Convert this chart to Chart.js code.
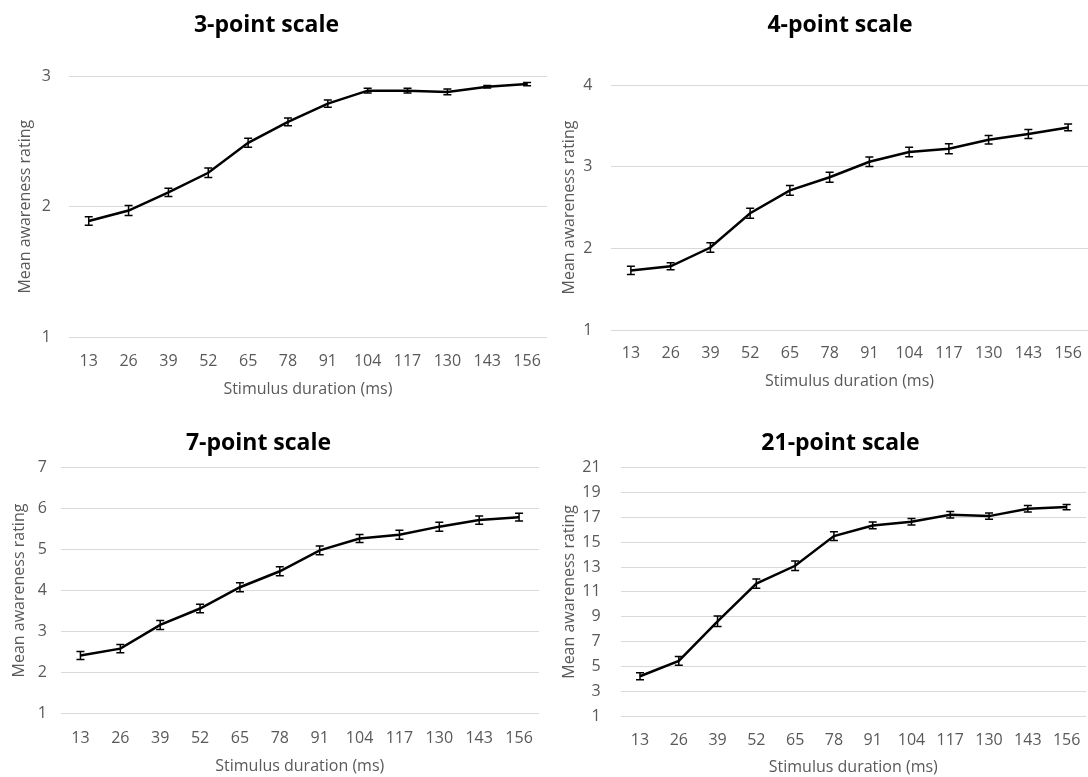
<!DOCTYPE html>
<html>
<head>
<meta charset="utf-8">
<script src="https://cdn.jsdelivr.net/npm/chart.js@4.4.1/dist/chart.umd.min.js"></script>
<style>
  html, body { margin: 0; padding: 0; background: #ffffff; overflow: hidden; width: 1088px; height: 777px; }
  .panel { position: absolute; }
</style>
</head>
<body>
<div class="panel" id="p1"><canvas id="c1"></canvas></div>
<div class="panel" id="p2"><canvas id="c2"></canvas></div>
<div class="panel" id="p3"><canvas id="c3"></canvas></div>
<div class="panel" id="p4"><canvas id="c4"></canvas></div>
<script>
// Stimulus durations (ms) shared by all four panels
const durations = ['13', '26', '39', '52', '65', '78', '91', '104', '117', '130', '143', '156'];

// 3-point scale: mean rating and standard error
const mean3 = [1.89, 1.97, 2.11, 2.26, 2.49, 2.65, 2.79, 2.89, 2.89, 2.88, 2.92, 2.94];
const err3  = [0.032, 0.038, 0.032, 0.037, 0.035, 0.030, 0.028, 0.019, 0.019, 0.022, 0.010, 0.013];
const ticks3 = [1, 2, 3];

// 4-point scale
const mean4 = [1.73, 1.78, 2.01, 2.43, 2.71, 2.87, 3.06, 3.18, 3.22, 3.33, 3.40, 3.48];
const err4  = [0.051, 0.043, 0.059, 0.061, 0.059, 0.061, 0.057, 0.059, 0.061, 0.053, 0.055, 0.041];
const ticks4 = [1, 2, 3, 4];

// 7-point scale
const mean7 = [2.41, 2.58, 3.16, 3.56, 4.08, 4.47, 4.98, 5.27, 5.36, 5.56, 5.72, 5.79];
const err7  = [0.098, 0.100, 0.110, 0.105, 0.110, 0.110, 0.105, 0.100, 0.110, 0.110, 0.100, 0.095];
const ticks7 = [1, 2, 3, 4, 5, 6, 7];

// 21-point scale
const mean21 = [4.2, 5.44, 8.63, 11.67, 13.1, 15.49, 16.35, 16.65, 17.21, 17.1, 17.69, 17.83];
const err21  = [0.28, 0.36, 0.43, 0.37, 0.39, 0.36, 0.27, 0.26, 0.26, 0.26, 0.26, 0.21];
const ticks21 = [1, 3, 5, 7, 9, 11, 13, 15, 17, 19, 21];

const FONT = "'Open Sans', 'DejaVu Sans', sans-serif";
const TITLE_SIZE = 23, TICK_SIZE = 16, AXIS_TITLE_SIZE = 16;

// Draws +/- error bars with small caps at every point of the first dataset
const errorBars = {
  id: 'errorBars',
  afterDatasetsDraw(chart, args, opts) {
    const meta = chart.getDatasetMeta(0);
    const y = chart.scales.y;
    const ctx = chart.ctx;
    const errs = opts.errors || [];
    const values = chart.data.datasets[0].data;
    ctx.save();
    ctx.strokeStyle = '#000000';
    ctx.lineWidth = 1.5;
    meta.data.forEach((pt, i) => {
      const e = errs[i];
      if (e == null) return;
      const top = y.getPixelForValue(values[i] + e);
      const bot = y.getPixelForValue(values[i] - e);
      const x = pt.x;
      const cap = 4;
      ctx.beginPath();
      ctx.moveTo(x, top); ctx.lineTo(x, bot);
      ctx.moveTo(x - cap, top); ctx.lineTo(x + cap, top);
      ctx.moveTo(x - cap, bot); ctx.lineTo(x + cap, bot);
      ctx.stroke();
    });
    ctx.restore();
  }
};

function makePanel(cfg) {
  const holder = document.getElementById(cfg.holder);
  holder.style.left = cfg.left + 'px';
  holder.style.top = cfg.top + 'px';
  holder.style.width = cfg.width + 'px';
  holder.style.height = cfg.height + 'px';
  const canvas = document.getElementById(cfg.canvas);
  canvas.width = cfg.width;
  canvas.height = cfg.height;
  canvas.style.width = cfg.width + 'px';
  canvas.style.height = cfg.height + 'px';

  return new Chart(canvas, {
    type: 'line',
    data: {
      labels: durations,
      datasets: [{
        data: cfg.values,
        borderColor: '#000000',
        borderWidth: 2.5,
        pointRadius: 0,
        pointHoverRadius: 0,
        tension: 0,
        fill: false
      }]
    },
    options: {
      responsive: false,
      animation: false,
      devicePixelRatio: 1,
      layout: { padding: 0 },
      plugins: {
        legend: { display: false },
        tooltip: { enabled: false },
        title: {
          display: true,
          text: cfg.title,
          color: '#000000',
          font: { family: FONT, size: TITLE_SIZE, weight: 'bold', lineHeight: 1.2 },
          padding: { top: cfg.titlePadTop, bottom: cfg.titlePadBottom }
        },
        errorBars: { errors: cfg.errors }
      },
      scales: {
        x: {
          type: 'category',
          offset: true,
          grid: { display: false, drawTicks: false },
          border: { display: false },
          ticks: {
            color: '#595959',
            font: { family: FONT, size: TICK_SIZE, lineHeight: 1.2 },
            padding: cfg.xTickPad,
            maxRotation: 0,
            autoSkip: false
          },
          title: {
            display: true,
            text: 'Stimulus duration (ms)',
            color: '#595959',
            font: { family: FONT, size: AXIS_TITLE_SIZE, lineHeight: 1.2 },
            padding: { top: 0, bottom: cfg.xTitlePadBottom }
          },
          afterFit(axis) { axis.height = cfg.xAxisHeight; }
        },
        y: {
          type: 'linear',
          position: 'left',
          min: cfg.ticks[0],
          max: cfg.ticks[cfg.ticks.length - 1],
          grid: { color: '#d9d9d9', lineWidth: 1, drawTicks: false },
          border: { display: false },
          ticks: {
            color: '#595959',
            font: { family: FONT, size: TICK_SIZE, lineHeight: 1.2 },
            padding: cfg.yTickPad
          },
          afterBuildTicks(axis) { axis.ticks = cfg.ticks.map(v => ({ value: v })); },
          title: {
            display: true,
            text: 'Mean awareness rating',
            color: '#595959',
            font: { family: FONT, size: AXIS_TITLE_SIZE, lineHeight: 1.2 },
            padding: { top: cfg.yTitlePadTop, bottom: 0 }
          },
          afterFit(axis) { axis.width = cfg.yAxisWidth; }
        },
        // empty spacer on the right so the plot can run to the panel edge
        spacer: {
          type: 'linear',
          position: 'right',
          display: true,
          grid: { display: false, drawTicks: false },
          border: { display: false },
          ticks: { display: false },
          afterFit(axis) { axis.width = cfg.spacer; }
        }
      }
    },
    plugins: [errorBars]
  });
}

makePanel({
  holder: 'p1', canvas: 'c1', title: '3-point scale',
  values: mean3, errors: err3, ticks: ticks3,
  left: -34, top: 0, width: 601, height: 405,
  titlePadTop: 11.2, titlePadBottom: 37.5,
  yAxisWidth: 102.8, yTitlePadTop: 50.1, yTickPad: 18,
  xAxisHeight: 68, xTickPad: 14.4, xTitlePadBottom: 5.7,
  spacer: 20
});

makePanel({
  holder: 'p2', canvas: 'c2', title: '4-point scale',
  values: mean4, errors: err4, ticks: ticks4,
  left: 552, top: 0, width: 576, height: 405,
  titlePadTop: 11.2, titlePadBottom: 46.2,
  yAxisWidth: 59, yTitlePadTop: 8.1, yTickPad: 18.5,
  xAxisHeight: 75, xTickPad: 13.4, xTitlePadBottom: 13.7,
  spacer: 40
});

makePanel({
  holder: 'p3', canvas: 'c3', title: '7-point scale',
  values: mean7, errors: err7, ticks: ticks7,
  left: -42.5, top: 410, width: 601, height: 367,
  titlePadTop: 19.7, titlePadBottom: 10.4,
  yAxisWidth: 102.5, yTitlePadTop: 52.2, yTickPad: 13.7,
  xAxisHeight: 63.7, xTickPad: 15.1, xTitlePadBottom: 0.7,
  spacer: 20
});

makePanel({
  holder: 'p4', canvas: 'c4', title: '21-point scale',
  values: mean21, errors: err21, ticks: ticks21,
  left: 555.4, top: 410, width: 571, height: 367,
  titlePadTop: 19.7, titlePadBottom: 10.4,
  yAxisWidth: 65.6, yTitlePadTop: 4.7, yTickPad: 20,
  xAxisHeight: 61, xTickPad: 14.4, xTitlePadBottom: 0,
  spacer: 40
});
</script>
</body>
</html>
